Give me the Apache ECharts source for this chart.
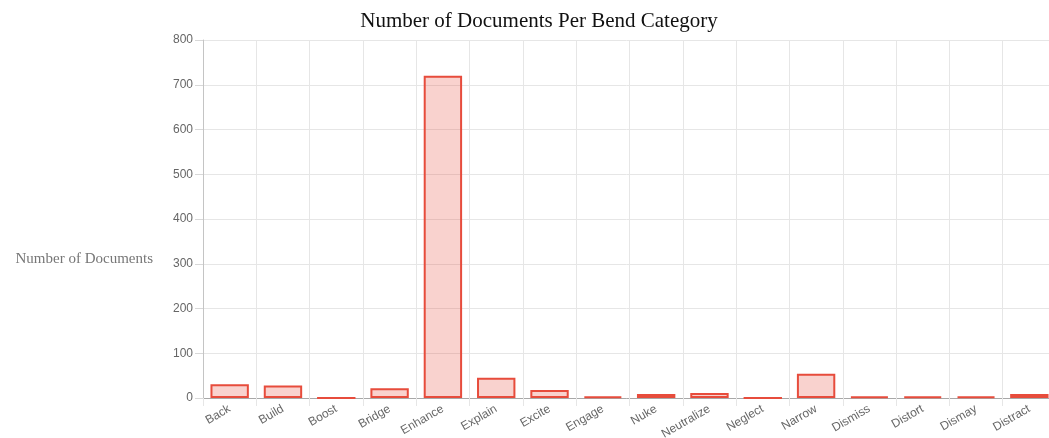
<!DOCTYPE html>
<html>
<head>
<meta charset="utf-8">
<script src="https://cdn.jsdelivr.net/npm/echarts@6/dist/echarts.min.js"></script>
<style>
  html, body { margin: 0; padding: 0; background: #fff; }
  #chart { width: 1049px; height: 438px; }
</style>
</head>
<body>
<div id="chart"></div>
<script>
  const categories = ['Back', 'Build', 'Boost', 'Bridge', 'Enhance', 'Explain', 'Excite', 'Engage',
    'Nuke', 'Neutralize', 'Neglect', 'Narrow', 'Dismiss', 'Distort', 'Dismay', 'Distract'];
  const docCounts = [31, 28, 0, 22, 720, 45, 18, 3, 9, 11, 0, 54, 3, 3, 3, 9];
  const yTicks = { min: 0, max: 800, interval: 100 };

  const GRID_COLOR = '#e6e6e6';
  const myChart = echarts.init(document.getElementById('chart'));
  const option = {
    animation: false,
    title: {
      text: 'Number of Documents Per Bend Category',
      left: 534,
      top: 6,
      textAlign: 'center',
      textStyle: {
        fontFamily: '"Liberation Serif", serif',
        fontWeight: 'normal',
        fontSize: 21,
        color: '#111'
      }
    },
    // y axis title sits lower than the axis middle in the original
    graphic: [
      {
        type: 'text',
        x: 153,
        y: 259,
        style: {
          text: 'Number of Documents',
          textAlign: 'right',
          textVerticalAlign: 'middle',
          font: '15px "Liberation Serif", serif',
          fill: '#777'
        }
      }
    ],
    grid: {
      left: 203,
      top: 40,
      width: 853,
      bottom: 40,
      containLabel: false,
      outerBoundsMode: 'none'
    },
    xAxis: {
      type: 'category',
      data: categories,
      boundaryGap: true,
      axisLine: { show: true, lineStyle: { color: '#a8a8a8', width: 1 } },
      axisTick: { show: true, length: 8, lineStyle: { color: GRID_COLOR } },
      splitLine: { show: true, lineStyle: { color: GRID_COLOR } },
      axisLabel: {
        rotate: 30,
        interval: 0,
        margin: 10,
        color: '#666',
        fontSize: 12,
        fontFamily: '"Liberation Sans", Arial, sans-serif'
      }
    },
    yAxis: {
      type: 'value',
      min: yTicks.min,
      max: yTicks.max,
      interval: yTicks.interval,
      axisLine: { show: true, lineStyle: { color: '#c4c4c4', width: 1 } },
      axisTick: { show: true, length: 8, lineStyle: { color: '#d8d8d8' } },
      splitLine: { show: true, lineStyle: { color: GRID_COLOR } },
      axisLabel: {
        margin: 10,
        color: '#666',
        fontSize: 12,
        fontFamily: '"Liberation Sans", Arial, sans-serif'
      }
    },
    series: [
      {
        name: 'Number of Documents',
        type: 'bar',
        data: docCounts,
        barWidth: '72%',
        itemStyle: {
          color: 'rgba(231, 76, 60, 0.25)',
          borderColor: '#e74c3c',
          borderWidth: 2
        }
      }
    ]
  };
  option && myChart.setOption(option);
</script>
</body>
</html>
